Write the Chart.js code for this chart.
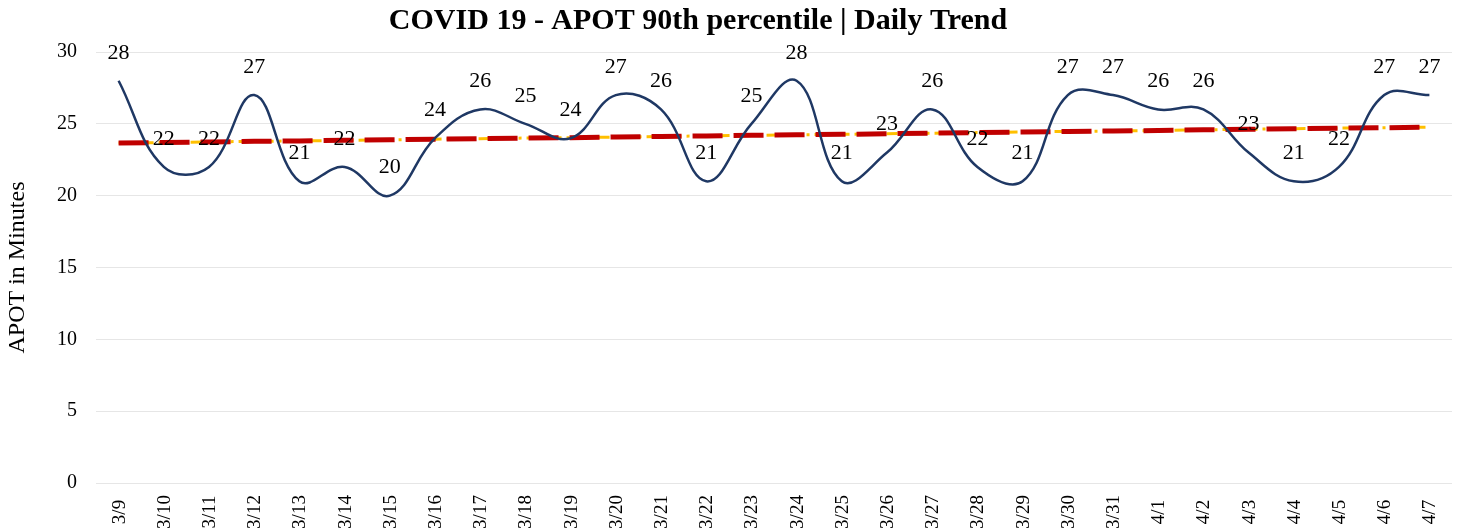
<!DOCTYPE html>
<html>
<head>
<meta charset="utf-8">
<script src="https://cdn.jsdelivr.net/npm/chart.js@4.4.1/dist/chart.umd.min.js"></script>
<style>
  html, body { margin: 0; padding: 0; background: #fff; overflow: hidden; }
  #wrap { width: 1459px; height: 531px; position: relative; }
</style>
</head>
<body>
<div id="wrap"><canvas id="myChart"></canvas></div>
<script>
const days = ['3/9', '3/10', '3/11', '3/12', '3/13', '3/14', '3/15', '3/16', '3/17', '3/18',
    '3/19', '3/20', '3/21', '3/22', '3/23', '3/24', '3/25', '3/26', '3/27', '3/28',
    '3/29', '3/30', '3/31', '4/1', '4/2', '4/3', '4/4', '4/5', '4/6', '4/7'];
const apot = [28, 22, 22, 27, 21, 22, 20, 24, 26, 25,
    24, 27, 26, 21, 25, 28, 21, 23, 26, 22,
    21, 27, 27, 26, 26, 23, 21, 22, 27, 27];
const trend = [23.66, 23.70, 23.74, 23.78, 23.81, 23.85, 23.89, 23.93, 23.97, 24.01,
    24.04, 24.08, 24.12, 24.16, 24.20, 24.24, 24.27, 24.31, 24.35, 24.39,
    24.43, 24.47, 24.50, 24.54, 24.58, 24.62, 24.66, 24.70, 24.73, 24.77];
const yTicks = [0, 5, 10, 15, 20, 25, 30];

const serif = "'Liberation Serif', 'Times New Roman', serif";

// title, point labels and rotated day labels
const textPlugin = {
    id: 'textPlugin',
    afterDatasetsDraw(chart) {
        const ctx = chart.ctx;
        ctx.save();
        ctx.fillStyle = '#000';
        ctx.font = 'bold 30px ' + serif;
        ctx.textAlign = 'center';
        ctx.textBaseline = 'middle';
        ctx.fillText('COVID 19 - APOT 90th percentile | Daily Trend', 698, 21);

        ctx.font = '22px ' + serif;
        const meta = chart.getDatasetMeta(2);
        meta.data.forEach((pt, i) => {
            ctx.fillText(String(apot[i]), pt.x, pt.y - 28);
        });

        const xs = chart.scales.x;
        ctx.font = '19px ' + serif;
        days.forEach((d, i) => {
            const x = xs.getPixelForTick(i);
            ctx.save();
            ctx.translate(x + 1, 512);
            ctx.rotate(-Math.PI / 2);
            ctx.fillText(d, 0, 0);
            ctx.restore();
        });
        ctx.restore();
    }
};

const ctx = document.getElementById('myChart').getContext('2d');
const myChart = new Chart(ctx, {
    type: 'line',
    data: {
        labels: days,
        datasets: [{
            label: 'Trend',
            data: trend,
            borderColor: '#FFC000',
            borderWidth: 3,
            borderDash: [11, 5, 3, 5],
            pointRadius: 0,
            tension: 0,
            order: 3
        }, {
            label: 'Average',
            data: trend,
            borderColor: '#C00000',
            borderWidth: 5,
            borderDash: [30, 11],
            pointRadius: 0,
            tension: 0,
            order: 2
        }, {
            label: 'APOT',
            data: apot,
            borderColor: '#1F3864',
            borderWidth: 2.5,
            pointRadius: 0,
            tension: 0.4,
            order: 1
        }]
    },
    options: {
        responsive: true,
        maintainAspectRatio: false,
        animation: false,
        layout: { padding: { top: 52, right: 7, left: 0, bottom: 0 } },
        plugins: {
            legend: { display: false },
            title: { display: false },
            tooltip: { enabled: false }
        },
        scales: {
            x: {
                offset: true,
                grid: { display: false },
                border: { display: false },
                ticks: { display: false },
                afterFit(scale) { scale.height = 48; }
            },
            y: {
                min: 0,
                max: 30,
                afterBuildTicks(scale) { scale.ticks = yTicks.map(v => ({ value: v })); },
                grid: { color: '#e6e6e6', lineWidth: 1, drawTicks: false },
                border: { display: false },
                ticks: { color: '#000', font: { family: serif, size: 20 }, padding: 19 },
                title: {
                    display: true,
                    text: 'APOT in Minutes',
                    color: '#000',
                    font: { family: serif, size: 24 },
                    padding: { top: 3, bottom: 0 }
                },
                afterFit(scale) { scale.width = 96; }
            }
        }
    },
    plugins: [textPlugin]
});
</script>
</body>
</html>
